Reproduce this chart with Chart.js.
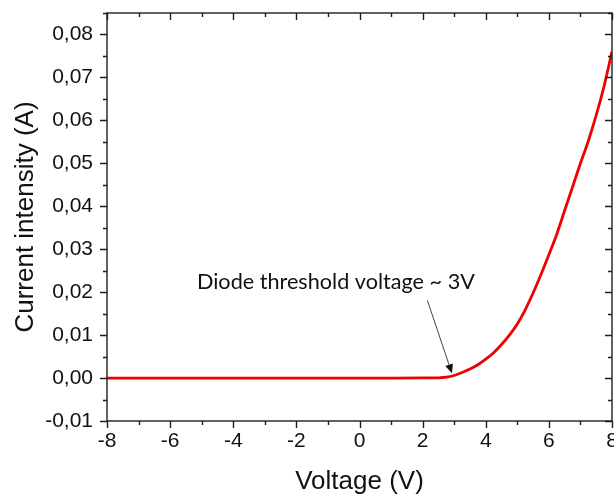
<!DOCTYPE html>
<html>
<head>
<meta charset="utf-8">
<script src="https://cdn.jsdelivr.net/npm/chart.js@4.4.0/dist/chart.umd.min.js"></script>
<style>
  html, body { margin: 0; padding: 0; background: #fff; overflow: hidden; }
  #wrap { width: 614px; height: 498px; position: relative; }
</style>
</head>
<body>
<div id="wrap"><canvas id="c"></canvas></div>
<script>
// ---- Data ----
const voltages = [-8, -7, -6, -5, -4, -3, -2, -1, 0, 1, 2, 2.5, 2.75, 3, 3.25, 3.5, 3.75, 4, 4.25, 4.5, 4.75, 5, 5.25, 5.5, 5.75, 6, 6.25, 6.5, 6.75, 7, 7.25, 7.5, 7.75, 8];
const currents = [0, 0, 0, 0, 0, 0, 0, 0, 0, 0, 0.00002, 0.00006, 0.0002, 0.0006, 0.0013, 0.0021, 0.0031, 0.0044, 0.0059, 0.0078, 0.0100, 0.0126, 0.0159, 0.0198, 0.0241, 0.0287, 0.0335, 0.0390, 0.0445, 0.0500, 0.0552, 0.0612, 0.0680, 0.0760];

const xMajorTicks = [-8, -6, -4, -2, 0, 2, 4, 6, 8];
const xMinorTicks = [-7, -5, -3, -1, 1, 3, 5, 7];
const yMajorTicks = [-0.01, 0, 0.01, 0.02, 0.03, 0.04, 0.05, 0.06, 0.07, 0.08];
const yMinorTicks = [-0.005, 0.005, 0.015, 0.025, 0.035, 0.045, 0.055, 0.065, 0.075, 0.085];

const annotationText = 'Diode threshold voltage ~ 3V';
const annotationAnchor = { x: -5.15, y: 0.0207 };
const arrowFrom = { x: 2.15, y: 0.0181 };
const arrowTo = { x: 2.93, y: 0.0011 };

const points = voltages.map((v, i) => ({ x: v, y: currents[i] }));
const fmt = v => (Math.abs(v) < 1e-9 ? 0 : v).toFixed(2).replace('.', ',');

const framePlugin = {
  id: 'frame',
  afterDraw(chart) {
    const { ctx, chartArea: a, scales: { x, y } } = chart;
    ctx.save();
    ctx.strokeStyle = '#1e1e1e';
    ctx.lineWidth = 1.4;
    ctx.strokeRect(a.left, a.top, a.right - a.left, a.bottom - a.top);
    const MAJ = 7, MIN = 4;
    ctx.beginPath();
    const xt = (v, len) => {
      const px = Math.round(x.getPixelForValue(v)) + 0.5;
      ctx.moveTo(px, a.bottom); ctx.lineTo(px, a.bottom + len); // outward bottom
      ctx.moveTo(px, a.top); ctx.lineTo(px, a.top + len);        // inward top
    };
    const yt = (v, len) => {
      const py = Math.round(y.getPixelForValue(v)) + 0.5;
      ctx.moveTo(a.left, py); ctx.lineTo(a.left - len, py);      // outward left
      ctx.moveTo(a.right, py); ctx.lineTo(a.right - len, py);    // inward right
    };
    xMajorTicks.forEach(v => xt(v, MAJ));
    xMinorTicks.forEach(v => xt(v, MIN));
    yMajorTicks.forEach(v => yt(v, MAJ));
    yMinorTicks.forEach(v => yt(v, MIN));
    ctx.stroke();

    // annotation text
    ctx.fillStyle = '#111';
    let size = 21;
    ctx.font = size + 'px Lato, "Open Sans", sans-serif';
    const w = ctx.measureText(annotationText).width;
    size = size * 278 / w;
    ctx.font = size.toFixed(2) + 'px Lato, "Open Sans", sans-serif';
    ctx.textAlign = 'left';
    ctx.textBaseline = 'alphabetic';
    ctx.fillText(annotationText, x.getPixelForValue(annotationAnchor.x), y.getPixelForValue(annotationAnchor.y));

    // arrow
    const x1 = x.getPixelForValue(arrowFrom.x), y1 = y.getPixelForValue(arrowFrom.y);
    const x2 = x.getPixelForValue(arrowTo.x), y2 = y.getPixelForValue(arrowTo.y);
    const ang = Math.atan2(y2 - y1, x2 - x1);
    const hl = 9, hw = 4;
    const bx = x2 - hl * Math.cos(ang), by = y2 - hl * Math.sin(ang);
    ctx.strokeStyle = '#444';
    ctx.lineWidth = 1;
    ctx.beginPath();
    ctx.moveTo(x1, y1); ctx.lineTo(bx, by);
    ctx.stroke();
    ctx.fillStyle = '#111';
    ctx.beginPath();
    ctx.moveTo(x2, y2);
    ctx.lineTo(bx + hw * Math.sin(ang), by - hw * Math.cos(ang));
    ctx.lineTo(bx - hw * Math.sin(ang), by + hw * Math.cos(ang));
    ctx.closePath();
    ctx.fill();
    ctx.restore();
  }
};

new Chart(document.getElementById('c'), {
  type: 'scatter',
  data: {
    datasets: [{
      data: points,
      showLine: true,
      borderColor: '#f00000',
      backgroundColor: '#f00000',
      borderWidth: 2.8,
      pointRadius: 0,
      cubicInterpolationMode: 'monotone'
    }]
  },
  plugins: [framePlugin],
  options: {
    responsive: true,
    maintainAspectRatio: false,
    animation: false,
    layout: { padding: { top: 13, right: 2, left: 0, bottom: 0 } },
    plugins: { legend: { display: false }, tooltip: { enabled: false } },
    scales: {
      x: {
        type: 'linear',
        min: -8, max: 8,
        grid: { display: false, drawTicks: false },
        border: { display: false },
        afterBuildTicks: s => { s.ticks = xMajorTicks.map(v => ({ value: v })); },
        afterFit: s => { s.height = 77; s.paddingLeft = 0; s.paddingRight = 0; s.paddingTop = 0; s.paddingBottom = 0; },
        ticks: {
          color: '#111',
          font: { family: 'Liberation Sans, Arial, sans-serif', size: 21 },
          padding: 8,
          maxRotation: 0,
          callback: v => String(v)
        },
        title: {
          display: true,
          text: 'Voltage (V)',
          color: '#111',
          font: { family: 'Liberation Sans, Arial, sans-serif', size: 26 },
          padding: { top: 4, bottom: 1 }
        }
      },
      y: {
        type: 'linear',
        min: -0.01, max: 0.085,
        grid: { display: false, drawTicks: false },
        border: { display: false },
        afterBuildTicks: s => { s.ticks = yMajorTicks.map(v => ({ value: v })); },
        afterFit: s => { s.width = 107; s.paddingLeft = 0; s.paddingRight = 0; s.paddingTop = 0; s.paddingBottom = 0; },
        ticks: {
          color: '#111',
          font: { family: 'Liberation Sans, Arial, sans-serif', size: 21 },
          padding: 14,
          callback: v => fmt(v)
        },
        title: {
          display: true,
          text: 'Current intensity (A)',
          color: '#111',
          font: { family: 'Liberation Sans, Arial, sans-serif', size: 26 },
          padding: { top: 10, bottom: 0 }
        }
      }
    }
  }
});
</script>
</body>
</html>
